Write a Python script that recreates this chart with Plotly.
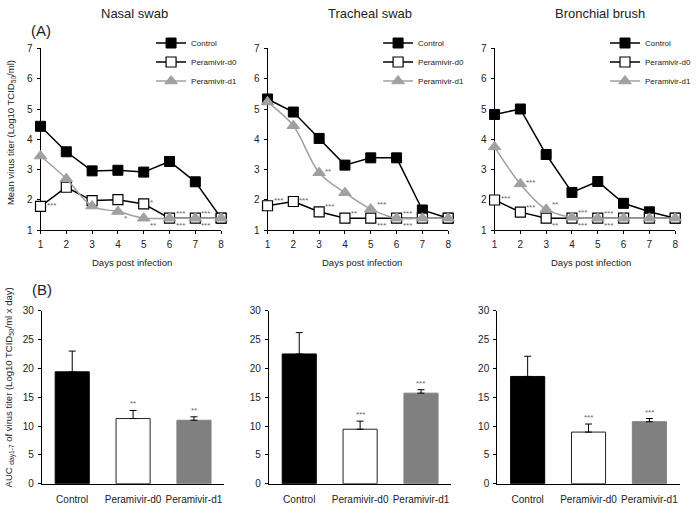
import plotly.graph_objects as go

W, H = 696, 506
FONT = "Liberation Sans, Arial, sans-serif"
TXT = "#222222"

# ---------------- data ----------------
days = [1, 2, 3, 4, 5, 6, 7, 8]
series_names = ["Control", "Peramivir-d0", "Peramivir-d1"]
panel_titles = ["Nasal swab", "Tracheal swab", "Bronchial brush"]

nasal_control = [4.43, 3.59, 2.96, 2.98, 2.92, 3.27, 2.60, 1.40]
nasal_d0 = [1.79, 2.42, 1.98, 2.01, 1.87, 1.40, 1.40, 1.40]
nasal_d1 = [3.45, 2.70, 1.80, 1.62, 1.40, 1.40, 1.40, 1.40]

tracheal_control = [5.33, 4.90, 4.03, 3.15, 3.39, 3.39, 1.67, 1.40]
tracheal_d0 = [1.81, 1.95, 1.61, 1.40, 1.40, 1.40, 1.40, 1.40]
tracheal_d1 = [5.23, 4.45, 2.90, 2.24, 1.70, 1.40, 1.40, 1.40]

bronchial_control = [4.82, 5.00, 3.50, 2.25, 2.61, 1.89, 1.61, 1.40]
bronchial_d0 = [2.00, 1.60, 1.40, 1.40, 1.40, 1.40, 1.40, 1.40]
bronchial_d1 = [3.75, 2.53, 1.69, 1.43, 1.40, 1.40, 1.40, 1.40]

# significance labels per day
nasal_d0_sig = ["***", "", "", "", "*", "***", "***", ""]
nasal_d1_sig = ["", "", "", "*", "**", "***", "***", ""]
tracheal_d0_sig = ["***", "***", "***", "**", "***", "***", "", ""]
tracheal_d1_sig = ["", "", "**", "", "***", "***", "", ""]
bronchial_d0_sig = ["***", "***", "**", "***", "***", "", "", ""]
bronchial_d1_sig = ["", "***", "**", "***", "***", "", "", ""]

# label placement hints (u = above right, r = right, d = below right)
nasal_d0_pos = ["r", "", "", "", "r", "u", "u", ""]
nasal_d1_pos = ["", "", "", "d", "d", "d", "d", ""]
tracheal_d0_pos = ["u", "r", "u", "u", "d", "d", "", ""]
tracheal_d1_pos = ["", "", "r", "", "u", "u", "", ""]
bronchial_d0_pos = ["r", "u", "d", "d", "d", "", "", ""]
bronchial_d1_pos = ["", "r", "u", "u", "u", "", "", ""]

auc_groups = ["Control", "Peramivir-d0", "Peramivir-d1"]
nasal_auc = [19.4, 11.3, 11.0]
nasal_auc_err = [3.6, 1.4, 0.6]
nasal_auc_sig = ["", "**", "**"]
tracheal_auc = [22.5, 9.45, 15.7]
tracheal_auc_err = [3.7, 1.4, 0.6]
tracheal_auc_sig = ["", "***", "***"]
bronchial_auc = [18.6, 8.95, 10.75]
bronchial_auc_err = [3.5, 1.4, 0.55]
bronchial_auc_sig = ["", "***", "***"]

# ---------------- layout geometry (pixels) ----------------
def px(x):
    return x / W

def py(y):
    return 1 - y / H

top_x = [(38, 221), (268, 451), (498, 681)]
top_y = (43.3, 229.3)
bot_x = [(39.3, 224.3), (269.3, 454.3), (500.7, 685.7)]
bot_y = (311.5, 488.3)

line_data = [
    (nasal_control, nasal_d0, nasal_d1, nasal_d0_sig, nasal_d1_sig, nasal_d0_pos, nasal_d1_pos),
    (tracheal_control, tracheal_d0, tracheal_d1, tracheal_d0_sig, tracheal_d1_sig, tracheal_d0_pos, tracheal_d1_pos),
    (bronchial_control, bronchial_d0, bronchial_d1, bronchial_d0_sig, bronchial_d1_sig, bronchial_d0_pos, bronchial_d1_pos),
]
bar_data = [
    (nasal_auc, nasal_auc_err, nasal_auc_sig),
    (tracheal_auc, tracheal_auc_err, tracheal_auc_sig),
    (bronchial_auc, bronchial_auc_err, bronchial_auc_sig),
]

GRAY_LINE = "#a0a0a0"
GRAY_BAR = "#808080"
SIG_COLOR = "#666666"
yshift_map = {"u": 5, "r": 1, "d": -7}

fig = go.Figure()
annotations = []
layout = {}

for i in range(3):
    xa = "x" if i == 0 else f"x{i+1}"
    ya = "y" if i == 0 else f"y{i+1}"
    lg = "legend" if i == 0 else f"legend{i+1}"
    ctrl, d0, d1, s0, s1, p0, p1 = line_data[i]
    styles = [
        (ctrl, dict(color="black", width=1.5), dict(symbol="square", size=10, color="black", line=dict(color="black", width=1)), "linear"),
        (d0, dict(color="black", width=1.5), dict(symbol="square", size=10, color="white", line=dict(color="black", width=1.2)), "linear"),
        (d1, dict(color=GRAY_LINE, width=1.5), dict(symbol="triangle-up", size=11, color=GRAY_LINE, line=dict(color=GRAY_LINE, width=1)), "spline"),
    ]
    for name, (vals, ln, mk, shape) in zip(series_names, styles):
        ln = dict(ln)
        ln["shape"] = shape
        fig.add_trace(go.Scatter(
            x=days, y=vals, mode="lines+markers", name=name,
            line=ln, marker=mk, xaxis=xa, yaxis=ya, legend=lg,
            cliponaxis=False, showlegend=True, hoverinfo="skip",
        ))
    for vals, sigs, poss in ((d0, s0, p0), (d1, s1, p1)):
        for d, v, s, p in zip(days, vals, sigs, poss):
            if s:
                annotations.append(dict(
                    x=d, y=v, xref=xa, yref=ya, text=s, showarrow=False,
                    xanchor="left", yanchor="middle", xshift=4, yshift=yshift_map[p],
                    font=dict(size=8, color=SIG_COLOR, family=FONT),
                ))
    key = "xaxis" if i == 0 else f"xaxis{i+1}"
    ykey = "yaxis" if i == 0 else f"yaxis{i+1}"
    layout[key] = dict(
        domain=[px(top_x[i][0]), px(top_x[i][1])], anchor=ya, range=[1, 8],
        tickvals=days, ticks="outside", ticklen=3, tickcolor="black",
        showline=True, linecolor="black", linewidth=1, showgrid=False, zeroline=False,
        tickfont=dict(size=10, color=TXT, family=FONT), layer="below traces",
        ticklabelstandoff=2, fixedrange=True,
    )
    layout[ykey] = dict(
        domain=[py(top_y[1]), py(top_y[0])], anchor=xa, range=[1, 7], dtick=1,
        ticks="outside", ticklen=3, tickcolor="black",
        showline=True, linecolor="black", linewidth=1, showgrid=False, zeroline=False,
        tickfont=dict(size=10, color=TXT, family=FONT), layer="below traces",
        ticklabelstandoff=2, fixedrange=True,
    )
    layout[lg] = dict(
        x=px(top_x[i][0] + 112), y=py(23), xanchor="left", yanchor="top",
        bgcolor="rgba(0,0,0,0)", font=dict(size=8, color=TXT, family=FONT),
        itemwidth=30, traceorder="normal",
    )

# bars
bar_colors = ["black", "white", GRAY_BAR]
bar_lines = ["black", "#222222", GRAY_BAR]
for i in range(3):
    n = i + 4
    xa, ya = f"x{n}", f"y{n}"
    vals, errs, sigs = bar_data[i]
    fig.add_trace(go.Bar(
        x=auc_groups, y=vals, xaxis=xa, yaxis=ya, width=0.56,
        marker=dict(color=bar_colors, line=dict(color=bar_lines, width=1)),
        error_y=dict(type="data", symmetric=False, array=errs, arrayminus=[0, 0, 0],
                     color="black", thickness=1, width=3.5),
        showlegend=False, hoverinfo="skip",
    ))
    for g, v, e, s in zip(auc_groups, vals, errs, sigs):
        if s:
            annotations.append(dict(
                x=g, y=v + e, xref=xa, yref=ya, text=s, showarrow=False,
                xanchor="center", yanchor="bottom", yshift=0,
                font=dict(size=8, color=SIG_COLOR, family=FONT),
            ))
    layout[f"xaxis{n}"] = dict(
        domain=[px(bot_x[i][0]), px(bot_x[i][1])], anchor=ya, type="category",
        range=[-0.5, 2.5], showline=True, linecolor="black", linewidth=1,
        showgrid=False, zeroline=False, ticks="",
        tickfont=dict(size=10, color=TXT, family=FONT), ticklabelstandoff=6,
        fixedrange=True,
    )
    layout[f"yaxis{n}"] = dict(
        domain=[py(bot_y[1]), py(bot_y[0])], anchor=xa, range=[0, 30], dtick=5,
        ticks="outside", ticklen=3, tickcolor="black",
        showline=True, linecolor="black", linewidth=1, showgrid=False, zeroline=False,
        tickfont=dict(size=10, color=TXT, family=FONT), ticklabelstandoff=2,
        fixedrange=True,
    )

# titles & labels
title_x = [133.5, 371.7, 605]
for t, xc in zip(panel_titles, title_x):
    annotations.append(dict(x=px(xc), y=py(8), xref="paper", yref="paper", text=t,
                            showarrow=False, xanchor="center", yanchor="middle",
                            font=dict(size=13, color=TXT, family=FONT)))
days_x = [130.7, 363.7, 595.3]
for xc in days_x:
    annotations.append(dict(x=px(xc), y=py(262), xref="paper", yref="paper",
                            text="Days post infection", showarrow=False,
                            xanchor="center", yanchor="middle",
                            font=dict(size=9.5, color=TXT, family=FONT)))
annotations.append(dict(x=px(38), y=py(25), xref="paper", yref="paper", text="(A)",
                        showarrow=False, xanchor="center", yanchor="middle",
                        font=dict(size=15, color=TXT, family=FONT)))
annotations.append(dict(x=px(40), y=py(290), xref="paper", yref="paper", text="(B)",
                        showarrow=False, xanchor="center", yanchor="middle",
                        font=dict(size=15, color=TXT, family=FONT)))
annotations.append(dict(x=px(8), y=py(129), xref="paper", yref="paper",
                        text="Mean virus titer (Log10 TCID<sub>50</sub>/ml)",
                        showarrow=False, textangle=-90, xanchor="center", yanchor="middle",
                        font=dict(size=9.5, color=TXT, family=FONT)))
annotations.append(dict(x=px(7), y=py(390), xref="paper", yref="paper",
                        text="AUC <sub>day1-7</sub> of virus titer (Log10 TCID<sub>50</sub>/ml x day)",
                        showarrow=False, textangle=-90, xanchor="center", yanchor="middle",
                        font=dict(size=9.5, color=TXT, family=FONT)))

fig.update_layout(
    width=W, height=H, autosize=False,
    margin=dict(l=0, r=0, t=0, b=0),
    paper_bgcolor="white", plot_bgcolor="white",
    font=dict(family=FONT, color=TXT),
    annotations=annotations,
    hovermode=False,
    **layout,
)

fig.write_html(
    "out.html",
    config={"displayModeBar": False, "staticPlot": False},
    post_script="document.body.style.margin='0';document.body.style.overflow='hidden';",
)
